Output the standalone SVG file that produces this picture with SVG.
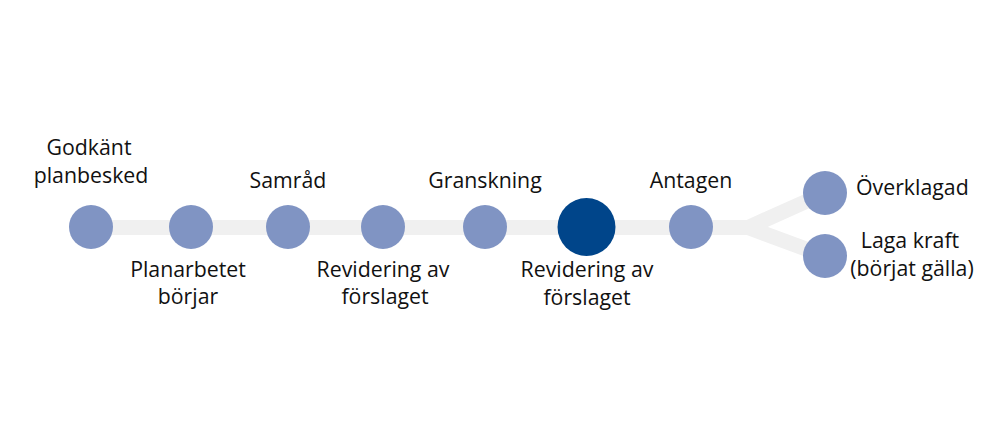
<svg xmlns="http://www.w3.org/2000/svg" width="1000" height="421" viewBox="0 0 1000 421">
<style>
.track{stroke:#f0f0f0;stroke-width:15;fill:none;stroke-linejoin:miter}
.step{fill:#8094c3}
.current{fill:#00458a}
text{font-family:"Open Sans","Liberation Sans",sans-serif;font-size:21.3px;fill:#111;text-anchor:middle}
</style>
<rect width="1000" height="421" fill="#ffffff"/>
<g id="connectors">
<path class="track" d="M91 227.5H748"/>
<path class="track" d="M740 227.5L748 227.5L825 193"/>
<path class="track" d="M740 227.5L748 227.5L825 256"/>
</g>
<g id="n1"><circle class="step" cx="91" cy="227" r="22"/><text x="89" y="155">Godkänt</text><text x="91" y="183">planbesked</text></g>
<g id="n2"><circle class="step" cx="191" cy="227" r="22"/><text x="188" y="277">Planarbetet</text><text x="188" y="304">börjar</text></g>
<g id="n3"><circle class="step" cx="288" cy="227" r="22"/><text x="288" y="188">Samråd</text></g>
<g id="n4"><circle class="step" cx="383" cy="227" r="22"/><text x="383" y="277">Revidering av</text><text x="385" y="304">förslaget</text></g>
<g id="n5"><circle class="step" cx="485" cy="227" r="22"/><text x="485" y="188">Granskning</text></g>
<g id="n6"><circle class="current" cx="586.5" cy="227" r="29"/><text x="587" y="277">Revidering av</text><text x="587" y="305">förslaget</text></g>
<g id="n7"><circle class="step" cx="691" cy="227" r="22"/><text x="691" y="188">Antagen</text></g>
<g id="n8"><circle class="step" cx="825" cy="193" r="22"/><text x="856" y="195" style="text-anchor:start">Överklagad</text></g>
<g id="n9"><circle class="step" cx="825" cy="256" r="22"/><text x="910" y="248">Laga kraft</text><text x="912" y="276">(börjat gälla)</text></g>
</svg>
